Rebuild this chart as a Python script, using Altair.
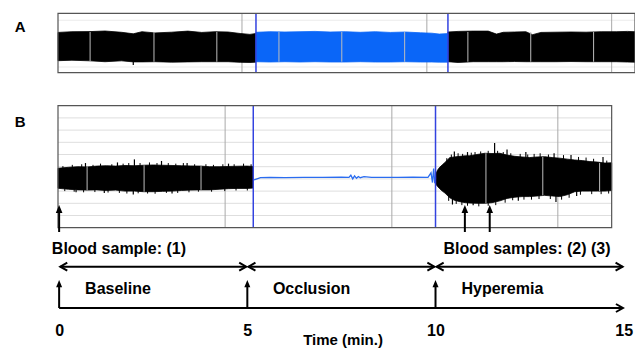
import altair as alt
import pandas as pd

FONT = "Liberation Sans"

# ---------------- data ----------------
# time in minutes; panel A amplitude in box units (bottom 0 .. top 10)
A_T1 = [-0.03, 0.34, 0.82, 1.22, 1.66, 1.97, 2.2, 2.55, 2.99, 3.42, 3.79, 4.14, 4.49, 4.81, 5.07, 5.23]
A_TOP1 = [6.78, 6.90, 6.92, 7.02, 6.80, 6.55, 6.90, 6.70, 6.82, 7.00, 6.78, 6.90, 6.85, 6.60, 6.45, 6.60]
A_BOT1 = [2.02, 2.10, 2.00, 1.85, 2.00, 1.82, 1.82, 1.85, 1.78, 1.82, 1.85, 1.85, 1.85, 1.75, 1.72, 1.78]

A_T2 = [5.23, 5.6, 6.0, 6.4, 6.8, 7.2, 7.6, 8.0, 8.4, 8.8, 9.2, 9.6, 9.9, 10.1, 10.33]
A_TOP2 = [6.80, 6.90, 6.85, 6.90, 6.95, 6.85, 6.90, 6.80, 6.90, 6.78, 6.85, 6.72, 6.65, 6.50, 6.58]
A_BOT2 = [1.85, 1.80, 1.85, 1.80, 1.85, 1.80, 1.80, 1.85, 1.80, 1.80, 1.85, 1.80, 1.80, 1.78, 1.78]

A_T3 = [10.33, 10.6, 11.0, 11.4, 11.62, 11.8, 12.1, 12.4, 12.58, 12.8, 13.2, 13.6, 14.0, 14.4, 14.8, 15.1, 15.3]
A_TOP3 = [6.85, 6.95, 7.00, 7.00, 6.50, 6.80, 6.85, 6.90, 6.40, 6.78, 6.82, 6.85, 6.82, 6.90, 6.90, 6.95, 6.90]
A_BOT3 = [1.85, 1.72, 1.85, 1.85, 1.85, 1.85, 1.88, 1.85, 1.85, 1.85, 1.85, 1.88, 1.85, 1.85, 1.85, 1.80, 1.78]

A_RANGE = [-0.03, 15.3]
A_MAJOR = [4.858, 9.77, 14.68]
A_MINOR = [0.823, 2.52, 4.19, 5.84, 7.51, 9.18, 10.86, 12.53, 14.2]
A_HGRID = [8.83, 0.96]
A_OCCL = [5.23, 10.33]

# panel B amplitude in grid units (bottom 0 .. top 10)
B_T1 = [-0.03, 0.25, 0.5, 0.75, 1.0, 1.25, 1.5, 1.75, 2.0, 2.25, 2.5, 2.75, 3.0, 3.25, 3.5, 3.75, 4.0, 4.25, 4.5, 4.75, 5.0, 5.16]
B_TOP1 = [4.87, 4.95, 5.00, 4.98, 5.05, 5.08, 5.05, 5.10, 5.08, 5.12, 5.14, 5.12, 5.10, 5.08, 5.06, 5.05, 5.00, 5.00, 5.02, 5.04, 5.05, 5.02]
B_BOT1 = [3.23, 3.15, 3.10, 3.08, 3.10, 3.05, 3.08, 3.00, 3.00, 2.95, 2.95, 2.98, 3.00, 3.05, 3.08, 3.10, 3.10, 3.15, 3.20, 3.22, 3.22, 3.25]

B_T3 = [10.0, 10.05, 10.11, 10.18, 10.25, 10.38, 10.5, 10.65, 10.8, 10.91, 11.1, 11.31, 11.5, 11.71, 11.9, 12.11, 12.3, 12.5, 12.7, 12.9, 13.1, 13.3, 13.5, 13.7, 13.9, 14.1, 14.3, 14.5, 14.68]
B_TOP3 = [4.35, 4.70, 4.95, 5.15, 5.35, 5.75, 5.80, 5.85, 5.90, 5.90, 6.00, 6.10, 6.08, 6.10, 5.95, 5.85, 5.80, 5.75, 5.80, 5.82, 5.75, 5.70, 5.62, 5.55, 5.50, 5.42, 5.38, 5.30, 5.32]
B_BOT3 = [3.60, 3.40, 3.20, 3.00, 2.84, 2.45, 2.25, 2.13, 2.05, 2.02, 2.00, 2.00, 2.05, 2.20, 2.40, 2.50, 2.55, 2.55, 2.60, 2.65, 2.60, 2.55, 2.70, 2.95, 3.00, 3.00, 3.00, 3.00, 3.05]

OCC_T = [5.16, 5.2, 5.35, 5.6, 6.0, 6.5, 7.0, 7.5, 7.7, 7.75, 7.8, 7.85, 7.9, 7.95, 8.0, 8.1, 8.3, 8.6, 9.0, 9.4, 9.8, 9.88, 9.92, 9.95, 9.98, 10.0]
OCC_G = [3.90, 3.95, 4.10, 4.12, 4.10, 4.13, 4.12, 4.14, 4.13, 4.30, 4.00, 4.25, 4.05, 4.20, 4.10, 4.18, 4.12, 4.13, 4.12, 4.14, 4.13, 4.50, 3.70, 4.85, 3.65, 4.10]

# spikes (time, low, high) in B grid units
SPIKE_T = [0.7, 1.55, 2.0, 2.72, 3.4, 4.5, 1.97, 1.2, 3.0, 0.45,
           11.57, 10.5, 10.85, 11.9, 12.4, 13.15, 13.6, 14.45, 10.45, 11.0, 12.2, 13.2, 13.75]
SPIKE_LO = [4.9, 4.9, 5.0, 5.0, 4.9, 4.9, 2.72, 2.85, 2.8, 2.9,
            5.9, 5.7, 5.8, 5.9, 5.7, 5.6, 5.5, 5.2, 1.9, 1.85, 2.2, 2.1, 2.6]
SPIKE_HI = [5.3, 5.35, 5.6, 5.47, 5.3, 5.25, 3.1, 3.1, 3.1, 3.1,
            6.94, 6.25, 6.2, 6.4, 6.2, 6.1, 5.95, 5.8, 2.5, 2.1, 2.6, 2.6, 3.0]
A_SPIKE = (1.97, 1.3, 1.85)

# fine hair on the envelope edges (B grid units)
HAIR_TOP_T = [0.1, 0.35, 0.6, 0.9, 1.1, 1.4, 1.7, 1.85, 2.15, 2.4, 2.6, 2.9, 3.1, 3.3, 3.6, 3.9, 4.1, 4.35, 4.65, 4.9, 5.1,
              10.3, 10.42, 10.6, 10.72, 10.95, 11.05, 11.2, 11.4, 11.65, 11.8, 12.0, 12.25, 12.45, 12.62, 12.78, 13.0, 13.4, 13.8, 14.0, 14.2, 14.55]
HAIR_TOP_HI = [5.05, 5.15, 5.2, 5.15, 5.25, 5.2, 5.25, 5.3, 5.3, 5.35, 5.3, 5.3, 5.25, 5.3, 5.2, 5.2, 5.15, 5.2, 5.2, 5.25, 5.2,
               5.7, 6.0, 6.1, 6.05, 6.15, 6.2, 6.25, 6.3, 6.3, 6.2, 6.1, 6.05, 6.0, 6.05, 6.1, 6.0, 5.95, 5.8, 5.75, 5.65, 5.5]
HAIR_BOT_T = [0.15, 0.4, 0.65, 0.95, 1.3, 1.6, 1.8, 2.1, 2.35, 2.55, 2.85, 3.15, 3.45, 3.7, 4.05, 4.4, 4.7, 5.0,
              10.35, 10.55, 10.7, 10.85, 11.15, 11.4, 11.6, 11.85, 12.05, 12.35, 12.55, 12.75, 13.05, 13.35, 13.55, 13.85, 14.15, 14.4, 14.6]
HAIR_BOT_LO = [3.0, 2.95, 2.9, 2.92, 2.88, 2.85, 2.8, 2.82, 2.8, 2.78, 2.85, 2.85, 2.9, 2.95, 2.95, 3.0, 3.05, 3.05,
               2.2, 1.95, 1.85, 1.8, 1.75, 1.8, 1.85, 2.05, 2.25, 2.3, 2.3, 2.35, 2.35, 2.3, 2.45, 2.7, 2.75, 2.75, 2.8]

B_RANGE = [-0.03, 14.68]
B_MAJOR = [4.41, 8.84, 13.25]
B_HGRID = [1, 2, 3, 4, 5, 6, 7, 8, 9]
B_OCCL = [5.158, 10.0]
B_MINOR_T = [0.743, 2.257, 3.77, 11.34, 12.85, 14.36]
B_MINOR_LO = [3.08, 2.95, 3.10, 2.00, 2.65, 3.00]
B_MINOR_HI = [4.98, 5.12, 5.05, 6.10, 5.80, 5.30]

SAMPLE_T = [0, 10.78, 11.44]
SAMPLE_TEXT = ["Blood sample: (1)", "Blood samples: (2) (3)"]
SAMPLE_TEXT_T = [-0.194, 10.21]
PHASE_START = [0, 5, 10]
PHASE_END = [5, 10, 15]
PHASE_LABEL = ["Baseline", "Occlusion", "Hyperemia"]
PHASE_LABEL_T = [0.69, 5.68, 10.69]
TICKS = [0, 5, 10, 15]

# ---------------- layout (vertical positions in px from plot top) ----------------
def yA(v):
    return 59.7 - 5.94 * v

def yB(g):
    return 214.7 - 12.2 * g

Y_SAMPLE_BOT, Y_SAMPLE_SHAFT_TOP, Y_SAMPLE_TIP = 219, 199, 192
Y_SAMPLE_TEXT = 241
Y_SPAN = 253.7
Y_PHASE_TEXT = 281
Y_LINE, Y_PHASE_SHAFT_TOP, Y_PHASE_TIP = 295, 273, 267
Y_A_LABEL, Y_B_LABEL, X_LABEL = 14, 108.5, -1.035

xs = alt.Scale(domain=[-0.03, 15.3], nice=False, zero=False)
ys = alt.Scale(domain=[0, 295], reverse=True, nice=False, zero=False)
xaxis = alt.Axis(values=TICKS, domain=False, ticks=False, grid=False, tickSize=0,
                 labelFont=FONT, labelFontSize=16, labelFontWeight="bold", labelColor="black",
                 labelPadding=14, labelFlush=False,
                 titleFont=FONT, titleFontSize=15, titleFontWeight="bold", titleColor="black",
                 titlePadding=-6, titleX=284.5)


def X(f="t"):
    return alt.X(f"{f}:Q", scale=xs, axis=xaxis, title="Time (min.)")


def Y(f="y"):
    return alt.Y(f"{f}:Q", scale=ys, axis=None)


def rules(df, color, width=1.0):
    return alt.Chart(df).mark_rule(color=color, strokeWidth=width).encode(
        x=X("t"), x2=alt.X2("t2"), y=Y("y"), y2=alt.Y2("y2"))


layers = []

# gridlines
hg = [{"t": A_RANGE[0], "t2": A_RANGE[1], "y": yA(v), "y2": yA(v)} for v in A_HGRID]
layers.append(rules(pd.DataFrame(hg), "#ebebeb"))
hg = [{"t": B_RANGE[0], "t2": B_RANGE[1], "y": yB(g), "y2": yB(g)} for g in B_HGRID]
layers.append(rules(pd.DataFrame(hg), "#dedede"))
vg = [{"t": t, "t2": t, "y": yA(0), "y2": yA(10)} for t in A_MAJOR] + \
     [{"t": t, "t2": t, "y": yB(0), "y2": yB(10)} for t in B_MAJOR]
layers.append(rules(pd.DataFrame(vg), "#a9a9a9"))


# signal envelopes
def env(ts, tops, bots, f, seg):
    return pd.DataFrame({"t": ts, "y": [f(v) for v in tops], "y2": [f(v) for v in bots], "seg": seg})


black = pd.concat([env(A_T1, A_TOP1, A_BOT1, yA, "a1"), env(A_T3, A_TOP3, A_BOT3, yA, "a3"),
                   env(B_T1, B_TOP1, B_BOT1, yB, "b1"), env(B_T3, B_TOP3, B_BOT3, yB, "b3")])
layers.append(alt.Chart(black).mark_area(color="black", orient="vertical", opacity=1, strokeWidth=0.8, stroke="black")
              .encode(x=X("t"), y=Y("y"), y2=alt.Y2("y2"), detail="seg:N"))
blue = env(A_T2, A_TOP2, A_BOT2, yA, "a2")
layers.append(alt.Chart(blue).mark_area(color="#0a66f8", orient="vertical", opacity=1, strokeWidth=0.8, stroke="#0a66f8")
              .encode(x=X("t"), y=Y("y"), y2=alt.Y2("y2"), detail="seg:N"))

# spikes and hair
sp = [{"t": A_SPIKE[0], "t2": A_SPIKE[0], "y": yA(A_SPIKE[1]), "y2": yA(A_SPIKE[2])}]
for t, lo, hi in zip(SPIKE_T, SPIKE_LO, SPIKE_HI):
    sp.append({"t": t, "t2": t, "y": yB(lo), "y2": yB(hi)})
layers.append(rules(pd.DataFrame(sp), "black", 1.2))
hair = [{"t": t, "t2": t, "y": yB(4.0 if t < 6 else 4.5), "y2": yB(hi)} for t, hi in zip(HAIR_TOP_T, HAIR_TOP_HI)] + \
       [{"t": t, "t2": t, "y": yB(lo), "y2": yB(4.0 if t < 6 else 3.5)} for t, lo in zip(HAIR_BOT_T, HAIR_BOT_LO)]
layers.append(rules(pd.DataFrame(hair), "black", 1.0))

# light minor lines across the signal
mn = [{"t": t, "t2": t, "y": yA(1.85), "y2": yA(6.85)} for t in A_MINOR] + \
     [{"t": t, "t2": t, "y": yB(lo), "y2": yB(hi)} for t, lo, hi in zip(B_MINOR_T, B_MINOR_LO, B_MINOR_HI)]
layers.append(rules(pd.DataFrame(mn), "#bdbdbd", 1.0))

# occlusion trace in B
occ = pd.DataFrame({"t": OCC_T, "y": [yB(g) for g in OCC_G]})
layers.append(alt.Chart(occ).mark_line(color="#2a6cf0", strokeWidth=1.3).encode(x=X("t"), y=Y("y")))

# occlusion boundaries
bl = [{"t": t, "t2": t, "y": yA(0), "y2": yA(10)} for t in A_OCCL] + \
     [{"t": t, "t2": t, "y": yB(0), "y2": yB(10)} for t in B_OCCL]
layers.append(rules(pd.DataFrame(bl), "#3343e0", 1.5))

# panel boxes
box = pd.DataFrame([{"t": A_RANGE[0], "t2": A_RANGE[1], "y": yA(10), "y2": yA(0)},
                    {"t": B_RANGE[0], "t2": B_RANGE[1], "y": yB(10), "y2": yB(0)}])
layers.append(alt.Chart(box).mark_rect(fillOpacity=0, stroke="#555555", strokeWidth=1.2)
              .encode(x=X("t"), x2=alt.X2("t2"), y=Y("y"), y2=alt.Y2("y2")))

# blood sample arrows
UP = "M0,0L-1,2.4L1,2.4Z"
sa = pd.DataFrame([{"t": t, "t2": t, "y": Y_SAMPLE_BOT, "y2": Y_SAMPLE_SHAFT_TOP} for t in SAMPLE_T])
layers.append(rules(sa, "black", 2))
sh = pd.DataFrame({"t": SAMPLE_T, "y": [Y_SAMPLE_TIP] * len(SAMPLE_T)})
layers.append(alt.Chart(sh).mark_point(shape=UP, size=44, filled=True, color="black", opacity=1)
              .encode(x=X("t"), y=Y("y")))
st = pd.DataFrame({"t": SAMPLE_TEXT_T, "y": [Y_SAMPLE_TEXT] * 2, "txt": SAMPLE_TEXT})
layers.append(alt.Chart(st).mark_text(align="left", baseline="alphabetic", font=FONT, fontSize=16,
                                       fontWeight="bold", color="black")
              .encode(x=X("t"), y=Y("y"), text="txt:N"))

# phase span double arrows
CHEV = "M-1.75,-1L0,0L-1.75,1"
sp_df = pd.DataFrame({"t": [a + 0.03 for a in PHASE_START], "t2": [b - 0.03 for b in PHASE_END],
                      "y": [Y_SPAN] * 3, "y2": [Y_SPAN] * 3})
layers.append(rules(sp_df, "black", 2))
layers.append(alt.Chart(sp_df).mark_point(shape=CHEV, size=64, filled=False, color="black", opacity=1,
                                          strokeWidth=2)
              .encode(x=X("t2"), y=Y("y")))
layers.append(alt.Chart(sp_df).mark_point(shape=CHEV, size=64, filled=False, color="black", opacity=1,
                                          strokeWidth=2, angle=180)
              .encode(x=X("t"), y=Y("y")))

# phase labels
pl = pd.DataFrame({"t": PHASE_LABEL_T, "y": [Y_PHASE_TEXT] * 3, "txt": PHASE_LABEL})
layers.append(alt.Chart(pl).mark_text(align="left", baseline="alphabetic", font=FONT, fontSize=16,
                                       fontWeight="bold", color="black")
              .encode(x=X("t"), y=Y("y"), text="txt:N"))

# phase start arrows
pa = pd.DataFrame([{"t": t, "t2": t, "y": Y_LINE, "y2": Y_PHASE_SHAFT_TOP} for t in PHASE_START])
layers.append(rules(pa, "black", 2))
ph = pd.DataFrame({"t": PHASE_START, "y": [Y_PHASE_TIP] * 3})
layers.append(alt.Chart(ph).mark_point(shape=UP, size=36, filled=True, color="black", opacity=1)
              .encode(x=X("t"), y=Y("y")))

# time line
tl = pd.DataFrame([{"t": TICKS[0], "t2": TICKS[-1] - 0.02, "y": Y_LINE, "y2": Y_LINE}])
layers.append(rules(tl, "black", 2))
layers.append(alt.Chart(tl).mark_point(shape=CHEV, size=64, filled=False, color="black", opacity=1,
                                       strokeWidth=2)
              .encode(x=X("t2"), y=Y("y")))

# panel letters
lt = pd.DataFrame({"t": [X_LABEL, X_LABEL], "y": [Y_A_LABEL, Y_B_LABEL], "txt": ["A", "B"]})
layers.append(alt.Chart(lt).mark_text(align="center", baseline="middle", font=FONT, fontSize=15,
                                       fontWeight="bold", color="black")
              .encode(x=X("t"), y=Y("y"), text="txt:N"))

chart = alt.layer(*layers).properties(
    width=577, height=295,
    padding={"left": 50, "top": 5, "right": 0, "bottom": 40},
    autosize=alt.AutoSizeParams(type="none"),
    background="white",
).configure_view(stroke=None)

chart.save("out.html", embed_options={"renderer": "svg", "actions": False})
